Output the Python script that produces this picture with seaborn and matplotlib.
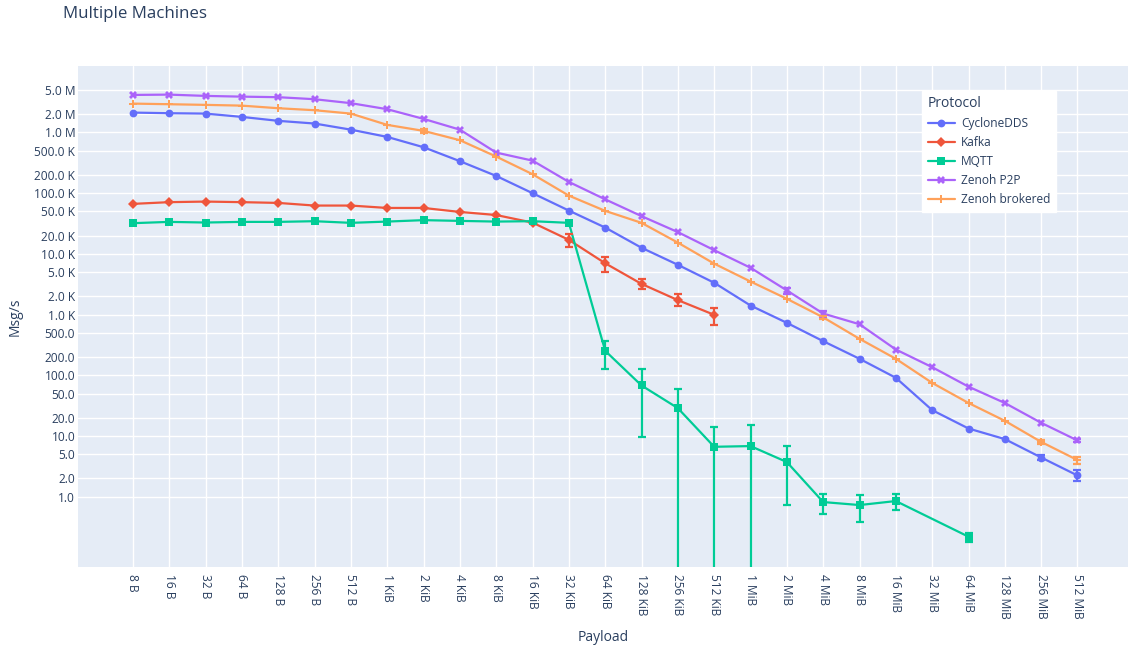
import numpy as np
import pandas as pd
import matplotlib
matplotlib.use("Agg")
import matplotlib.pyplot as plt
import seaborn as sns

nan = np.nan
payloads = ["8 B", "16 B", "32 B", "64 B", "128 B", "256 B", "512 B", "1 KiB", "2 KiB", "4 KiB",
            "8 KiB", "16 KiB", "32 KiB", "64 KiB", "128 KiB", "256 KiB", "512 KiB", "1 MiB", "2 MiB",
            "4 MiB", "8 MiB", "16 MiB", "32 MiB", "64 MiB", "128 MiB", "256 MiB", "512 MiB"]

protocols = ["CycloneDDS", "Kafka", "MQTT", "Zenoh P2P", "Zenoh brokered"]

cyclone = [2.12e6, 2.07e6, 2.04e6, 1.80e6, 1.55e6, 1.40e6, 1.11e6, 843e3, 570e3, 336e3,
           192e3, 99.8e3, 51.6e3, 27.1e3, 12.6e3, 6.6e3, 3.34e3, 1.41e3, 731, 365,
           187, 91, 26.7, 13.3, 8.9, 4.43, 2.24]
kafka = [66.5e3, 71e3, 72.6e3, 71e3, 69e3, 62.4e3, 62.4e3, 57e3, 57e3, 49e3,
         43.6e3, 32.7e3, 17.0e3, 7.0e3, 3.2e3, 1.73e3, 991, nan, nan, nan,
         nan, nan, nan, nan, nan, nan, nan]
mqtt = [32e3, 33.6e3, 32.8e3, 33.6e3, 33.6e3, 34.5e3, 32.4e3, 34e3, 35.9e3, 34.9e3,
        34e3, 34.5e3, 32.4e3, 253, 68, 28.8, 6.65, 6.83, 3.73, 0.818,
        0.73, 0.85, nan, 0.22, nan, nan, nan]
p2p = [4.14e6, 4.19e6, 3.99e6, 3.88e6, 3.80e6, 3.52e6, 3.03e6, 2.41e6, 1.67e6, 1.11e6,
       465e3, 343e3, 153e3, 79e3, 41.8e3, 22.8e3, 11.5e3, 5.9e3, 2.5e3, 1.04e3,
       693, 266, 136, 65, 35, 16.5, 8.45]
brokered = [2.98e6, 2.91e6, 2.84e6, 2.76e6, 2.50e6, 2.32e6, 2.04e6, 1.33e6, 1.06e6, 744e3,
            400e3, 205e3, 91e3, 51e3, 32.4e3, 15.3e3, 6.9e3, 3.5e3, 1.82e3, 900,
            399, 187, 75, 35, 17.8, 8.0, 4.02]

# error bar bounds (lower, upper); nan = no visible bar
cyclone_lo = [nan] * 25 + [3.96, 1.83]
cyclone_hi = [nan] * 25 + [4.9, 2.72]
kafka_lo = [nan] * 12 + [13.2e3, 5.0e3, 2.6e3, 1.36e3, 0.68e3] + [nan] * 10
kafka_hi = [nan] * 12 + [21.3e3, 8.9e3, 3.8e3, 2.17e3, 1.27e3] + [nan] * 10
mqtt_lo = [nan] * 13 + [129, 9.6, 1e-3, 1e-3, 1e-3, 0.72, 0.525, 0.38, 0.61, nan, 0.18, nan, nan, nan]
mqtt_hi = [nan] * 13 + [373, 128, 60, 14.0, 15.1, 6.9, 1.09, 1.08, 1.1, nan, 0.25, nan, nan, nan]
p2p_lo = [nan] * 18 + [2.16e3, 0.88e3] + [nan] * 6 + [7.9]
p2p_hi = [nan] * 18 + [2.77e3, 1.15e3] + [nan] * 6 + [9.0]
brokered_lo = [nan] * 8 + [0.97e6] + [nan] * 10 + [850] + [nan] * 5 + [7.5, 3.5]
brokered_hi = [nan] * 8 + [1.15e6] + [nan] * 10 + [960] + [nan] * 5 + [8.6, 4.5]

values = [cyclone, kafka, mqtt, p2p, brokered]
lows = [cyclone_lo, kafka_lo, mqtt_lo, p2p_lo, brokered_lo]
highs = [cyclone_hi, kafka_hi, mqtt_hi, p2p_hi, brokered_hi]

colors = ["#636efa", "#EF553B", "#00cc96", "#ab63fa", "#FFA15A"]
marker_map = {"CycloneDDS": "o", "Kafka": "D", "MQTT": "s", "Zenoh P2P": "X", "Zenoh brokered": "P"}

ytick_vals = [1, 2, 5, 10, 20, 50, 100, 200, 500, 1e3, 2e3, 5e3, 1e4, 2e4, 5e4,
              1e5, 2e5, 5e5, 1e6, 2e6, 5e6]
ytick_labels = ["1.0", "2.0", "5.0", "10.0", "20.0", "50.0", "100.0", "200.0", "500.0",
                "1.0 K", "2.0 K", "5.0 K", "10.0 K", "20.0 K", "50.0 K",
                "100.0 K", "200.0 K", "500.0 K", "1.0 M", "2.0 M", "5.0 M"]

rows = []
for p, vals in zip(protocols, values):
    for i, v in enumerate(vals):
        rows.append({"Protocol": p, "pos": i, "Payload": payloads[i], "Msg/s": v})
df = pd.DataFrame(rows)

sns.set_style("darkgrid", {"axes.facecolor": "#E5ECF6", "grid.color": "white"})
plt.rcParams["font.family"] = ["Open Sans", "DejaVu Sans"]
txt = "#2a3f5f"

fig = plt.figure(figsize=(11.28, 6.48), dpi=100)
ax = fig.add_axes([78 / 1128, (648 - 567) / 648, 1050 / 1128, 501 / 648])

palette = dict(zip(protocols, colors))
sns.lineplot(data=df, x="pos", y="Msg/s", hue="Protocol", style="Protocol",
             hue_order=protocols, style_order=protocols, palette=palette,
             markers=marker_map, dashes=False, markersize=5.6, markeredgewidth=0,
             linewidth=1.6, errorbar=None, ax=ax)

for p, vals, lo, hi, c in zip(protocols, values, lows, highs, colors):
    v = np.array(vals, dtype=float)
    lo = np.array(lo, dtype=float)
    hi = np.array(hi, dtype=float)
    m = ~np.isnan(lo)
    x = np.arange(len(v))[m]
    ax.errorbar(x, v[m], yerr=[v[m] - lo[m], hi[m] - v[m]], fmt="none", ecolor=c,
                elinewidth=1.6, capsize=3.2, capthick=1.6, zorder=3)

ax.set_yscale("log")
ax.set_ylim(0.0697, 1.24e7)
ax.set_xlim(-1.51, 27.39)
ax.set_yticks(ytick_vals)
ax.set_yticklabels(ytick_labels)
ax.minorticks_off()
ax.set_xticks(range(len(payloads)))
ax.set_xticklabels(payloads, rotation=-90)
ax.tick_params(axis="both", length=0, labelsize=8.6, labelcolor=txt)
ax.tick_params(axis="x", pad=5)
ax.tick_params(axis="y", pad=2)
ax.grid(True, color="white", linewidth=1)
for s in ax.spines.values():
    s.set_visible(False)

ax.set_xlabel("Payload", fontsize=10, color=txt, labelpad=8)
ax.set_ylabel("Msg/s", fontsize=10, color=txt, labelpad=8)

handles, labels = ax.get_legend_handles_labels()
leg = ax.legend(handles, labels, title="Protocol", loc="upper left",
                bbox_to_anchor=(0.804, 0.950), borderaxespad=0, frameon=True,
                facecolor="white", edgecolor="white", framealpha=1, fancybox=False,
                fontsize=8.6, title_fontsize=10, alignment="left",
                handlelength=2.3, handletextpad=0.5, labelspacing=0.5,
                borderpad=0.45)
for t in leg.get_texts():
    t.set_color(txt)
leg.get_title().set_color(txt)

fig.text(63 / 1128, 1 - 14 / 648, "Multiple Machines", ha="left", va="center",
         fontsize=12.2, color=txt)

fig.savefig("out.png", dpi=100)
